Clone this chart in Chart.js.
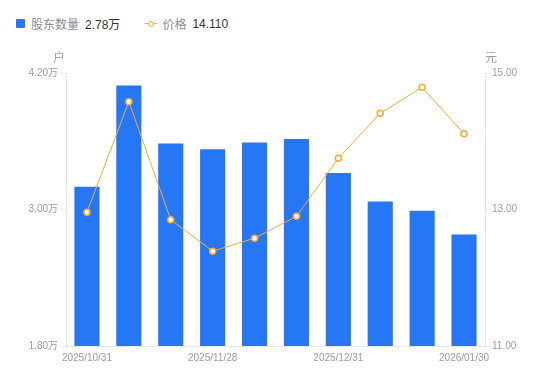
<!DOCTYPE html>
<html><head><meta charset="utf-8">
<script src="https://cdn.jsdelivr.net/npm/chart.js@4"></script>
<style>
html,body{margin:0;padding:0;background:#fff;}
#wrap{position:relative;width:550px;height:381px;font-family:"Liberation Sans","Noto Sans CJK SC",sans-serif;}
#legend{position:absolute;left:16px;top:15px;font-size:12px;display:flex;align-items:center;white-space:nowrap;}
.sq{display:inline-block;width:9px;height:9px;background:#2677f5;border-radius:1px;margin-right:6px;}
.lab{color:#8a8d96;margin-right:6px;}
.val{color:#333;margin-right:25px;}
.ln{position:relative;display:inline-block;width:12px;height:9px;margin-right:5px;}
.ln:before{content:"";position:absolute;left:0;right:0;top:4px;height:1px;background:#f8ab2c;}
.ln:after{content:"";position:absolute;left:3px;top:1.5px;width:4px;height:4px;border:1.5px solid #f8ab2c;border-radius:50%;background:#fff;}
canvas{position:absolute;left:0;top:0;}
</style></head>
<body><div id="wrap">
<div id="legend"><span class="sq"></span><span class="lab">股东数量</span><span class="val">2.78万</span><span class="ln"></span><span class="lab">价格</span><span class="val">14.110</span></div>
<canvas id="c" width="550" height="381"></canvas>
</div>
<script>
const categories = ["2025/10/31","2025/11/10","2025/11/20","2025/11/28","2025/12/10","2025/12/19","2025/12/31","2026/01/09","2026/01/20","2026/01/30"];
const holders = [3.20, 4.09, 3.58, 3.53, 3.59, 3.62, 3.32, 3.07, 2.99, 2.78];
const prices = [12.96, 14.58, 12.85, 12.39, 12.58, 12.90, 13.75, 14.41, 14.79, 14.11];
const leftTicks = [1.80, 3.00, 4.20];
const rightTicks = [11.00, 13.00, 15.00];
const shownLabelIdx = [0, 3, 6, 9];

const tickColor = '#9a9ca6';
const lineColor = '#e6e7ea';
const font = {family: '"Liberation Sans","Noto Sans CJK SC",sans-serif', size: 10};

const unitPlugin = {
  id: 'units',
  afterDraw(chart) {
    const ctx = chart.ctx, ca = chart.chartArea;
    ctx.save();
    ctx.font = '12px "Noto Sans CJK SC","Liberation Sans",sans-serif';
    ctx.fillStyle = tickColor;
    ctx.textBaseline = 'middle';
    ctx.textAlign = 'center';
    ctx.fillText('户', ca.left - 7, ca.top - 16);
    ctx.fillText('元', ca.right + 6, ca.top - 16);
    ctx.restore();
  }
};

new Chart(document.getElementById('c'), {
  data: {
    labels: categories,
    datasets: [
      {type: 'line', data: prices, yAxisID: 'y2', xAxisID: 'x', borderColor: '#f8ab2c', borderWidth: 1,
       pointRadius: 3, pointBorderWidth: 1.5, pointBackgroundColor: '#fff', pointBorderColor: '#f8ab2c', tension: 0, order: 0},
      {type: 'bar', data: holders, yAxisID: 'y', xAxisID: 'x', backgroundColor: '#2677f5',
       categoryPercentage: 1, barPercentage: 0.6, order: 1}
    ]
  },
  options: {
    responsive: false, animation: false,
    layout: {padding: {top: 73, left: 0, right: 0, bottom: 0}},
    plugins: {legend: {display: false}, tooltip: {enabled: false}},
    scales: {
      x: {type: 'category', offset: true,
        afterFit: s => { s.height = 35; },
        grid: {display: false, drawTicks: false},
        border: {display: true, color: lineColor},
        ticks: {color: tickColor, font: font, padding: 6, maxRotation: 0, autoSkip: false,
          callback: (v, i) => shownLabelIdx.includes(i) ? categories[i] : ''}
      },
      y: {type: 'linear', position: 'left', min: 1.8, max: 4.2,
        afterBuildTicks: s => { s.ticks = leftTicks.map(v => ({value: v})); },
        afterFit: s => { s.width = 66; },
        grid: {drawOnChartArea: false, tickLength: 5, color: lineColor},
        border: {color: lineColor},
        ticks: {color: tickColor, font: font, padding: 3, callback: v => v.toFixed(2) + '万'}
      },
      y2: {type: 'linear', position: 'right', min: 11, max: 15,
        afterBuildTicks: s => { s.ticks = rightTicks.map(v => ({value: v})); },
        afterFit: s => { s.width = 65; },
        grid: {drawOnChartArea: false, tickLength: 5, color: lineColor},
        border: {color: lineColor},
        ticks: {color: tickColor, font: font, padding: 2, callback: v => v.toFixed(2)}
      }
    }
  },
  plugins: [unitPlugin]
});
</script>
</body></html>
